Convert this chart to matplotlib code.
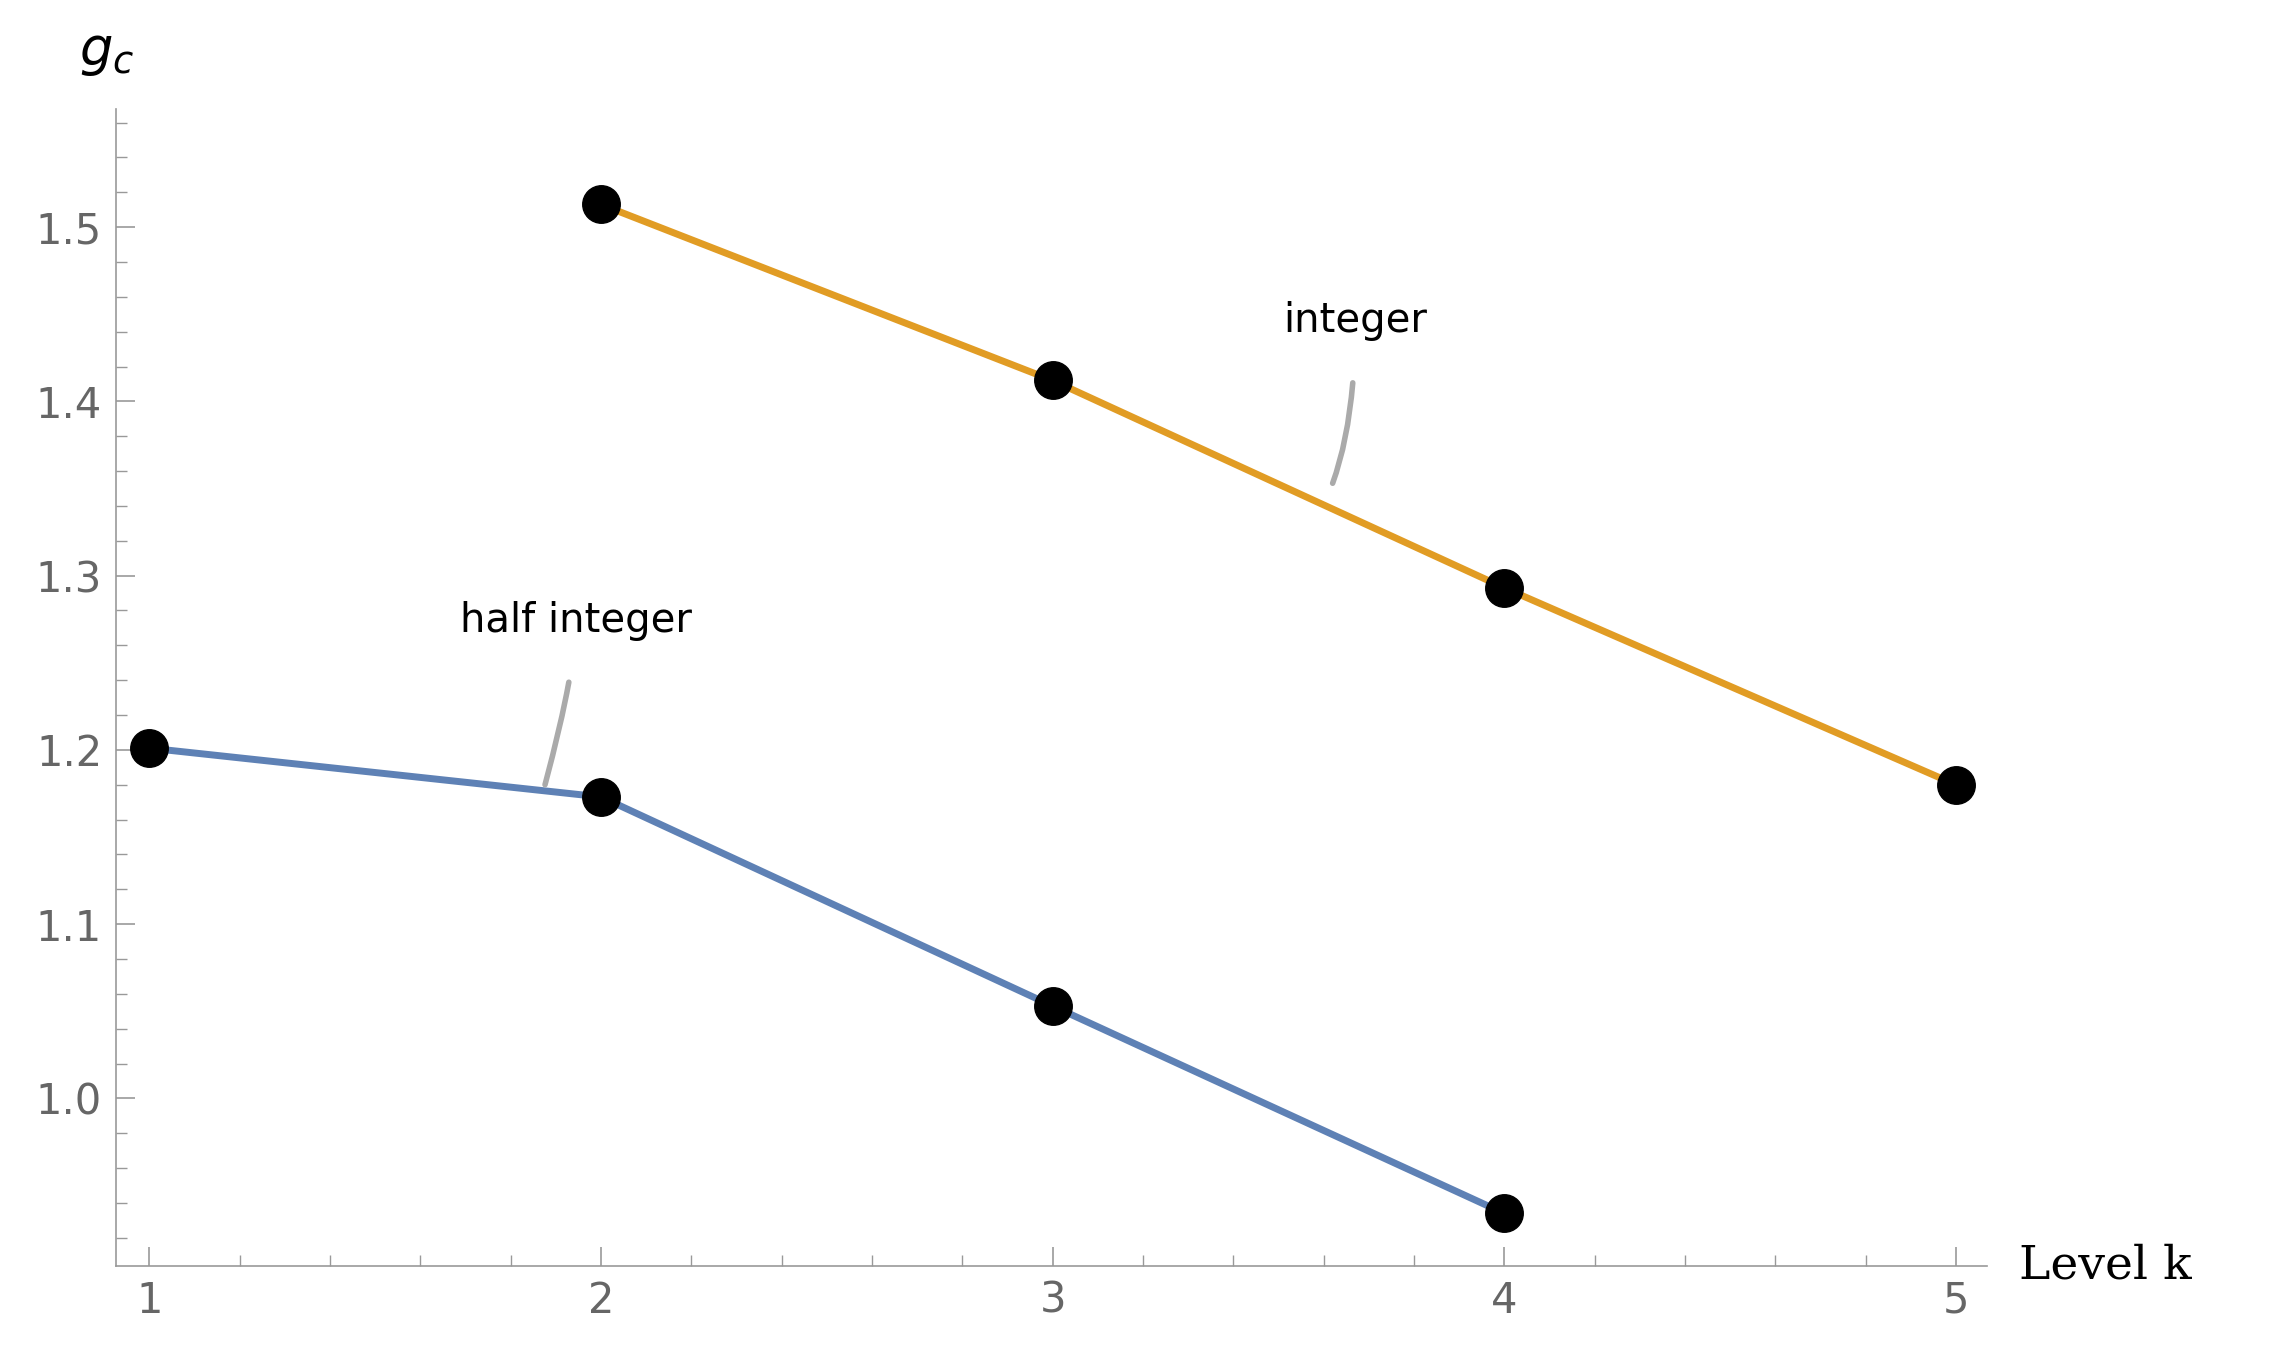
import matplotlib
matplotlib.use("Agg")
import matplotlib.pyplot as plt
from matplotlib.ticker import MultipleLocator

k_int = [2, 3, 4, 5]
g_int = [1.513, 1.412, 1.293, 1.180]
k_half = [1, 2, 3, 4]
g_half = [1.201, 1.173, 1.053, 0.934]

fig = plt.figure(figsize=(22.74, 13.58), dpi=100)
ax = fig.add_axes([0.051, 0.068, 0.823, 0.852])
ax.plot(k_half, g_half, color='#5E81B5', lw=5, zorder=2)
ax.plot(k_int, g_int, color='#E19C24', lw=5, zorder=2)
ax.plot(k_half, g_half, 'o', color='black', ms=27, zorder=3)
ax.plot(k_int, g_int, 'o', color='black', ms=27, zorder=3)

ax.set_xlim(0.926, 5.07)
ax.set_ylim(0.904, 1.568)
for s in ['top', 'right']:
    ax.spines[s].set_visible(False)
for s in ['left', 'bottom']:
    ax.spines[s].set_color('#999999')
    ax.spines[s].set_linewidth(1.2)
ax.xaxis.set_major_locator(MultipleLocator(1))
ax.xaxis.set_minor_locator(MultipleLocator(0.2))
ax.yaxis.set_major_locator(MultipleLocator(0.1))
ax.yaxis.set_minor_locator(MultipleLocator(0.02))
ax.tick_params(which='major', direction='in', length=14, width=1.2, color='#999999',
               labelsize=30, labelcolor='#666666', pad=10)
ax.tick_params(which='minor', direction='in', length=8, width=1, color='#999999')
ax.set_yticks([1.0, 1.1, 1.2, 1.3, 1.4, 1.5])
ax.set_yticklabels(['1.0', '1.1', '1.2', '1.3', '1.4', '1.5'])

fig.text(0.888, 0.068, 'Level k', family='DejaVu Serif', fontsize=34, va='center', ha='left')
fig.text(0.047, 0.962, r'$g_c$', fontsize=38, ha='center', va='center')

ax.annotate('integer', xy=(3.62, 1.353), xytext=(3.67, 1.446), fontsize=29,
            ha='center', va='center',
            arrowprops=dict(arrowstyle='-', color='#AAAAAA', lw=4,
                            connectionstyle='angle3,angleA=90,angleB=70', shrinkA=28, shrinkB=0))
ax.annotate('half integer', xy=(1.876, 1.180), xytext=(1.944, 1.274), fontsize=29,
            ha='center', va='center',
            arrowprops=dict(arrowstyle='-', color='#AAAAAA', lw=4,
                            connectionstyle='angle3,angleA=90,angleB=75', shrinkA=28, shrinkB=0))
fig.savefig('out.png', dpi=100)
